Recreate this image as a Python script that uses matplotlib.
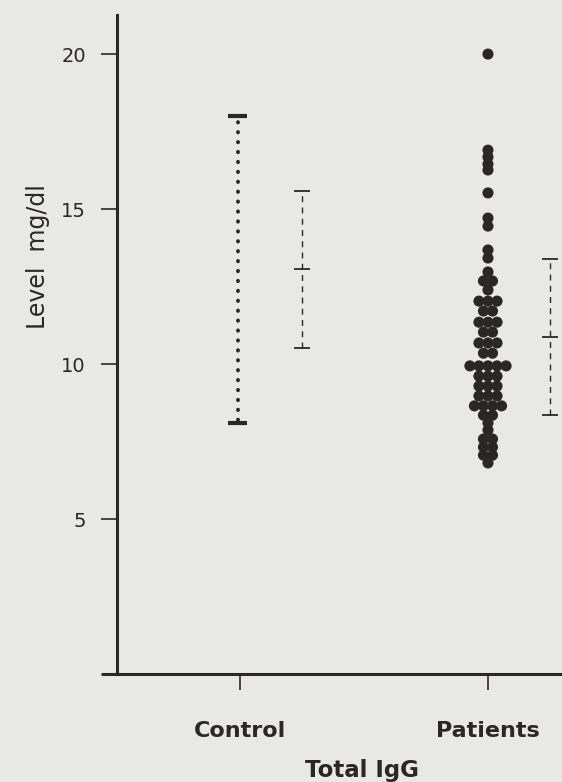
import numpy as np
import matplotlib
matplotlib.use('Agg')
import matplotlib.pyplot as plt

# Total IgG levels (mg/dl)
groups = ['Control', 'Patients']

# Control group: range and mean +/- SD
controlRange = [8.1, 18.0]
controlMean = 13.05
controlSD = 2.53

# Patients: individual values (value, how many dots side by side)
patientLevels = [20.0, 16.9, 16.68, 16.45, 16.26, 15.52, 14.71, 14.45, 13.68, 13.42,
                 12.97, 12.68, 12.39, 12.03, 11.71, 11.35, 11.03, 10.68, 10.35, 9.94,
                 9.61, 9.29, 8.97, 8.65, 8.35, 8.10, 7.87, 7.58, 7.32, 7.06, 6.81]
patientCounts = [1, 1, 1, 1, 1, 1, 1, 1, 1, 1,
                 1, 2, 1, 3, 2, 3, 2, 3, 2, 5,
                 3, 3, 3, 4, 2, 1, 1, 2, 2, 2, 1]
patientMean = 10.87
patientSD = 2.52

yTicks = [5, 10, 15, 20]

ink = '#2a2826'
paper = '#e8e8e6'

fig = plt.figure(figsize=(5.62, 7.82), dpi=100, facecolor=paper)
ax = fig.add_axes([0.2082, 0.1381, 0.7918, 0.8427])
ax.set_facecolor(paper)

ctrlX = 1.0
patX = 3.0
sdOffset = 0.5
dotStep = 0.073

# Control range: dotted line with heavy caps
ax.vlines(ctrlX - 0.02, controlRange[0] + 0.1, controlRange[1] - 0.1, color=ink, lw=2.8,
          linestyles=[(0, (0.1, 2.45))], capstyle='round')
ax.hlines(controlRange, ctrlX - 0.02 - 0.075, ctrlX - 0.02 + 0.075, color=ink, lw=3.0)

# mean +/- SD bars (dashed)
for x, m, s in [(ctrlX + sdOffset, controlMean, controlSD), (patX + sdOffset, patientMean, patientSD)]:
    ax.vlines(x, m - s, m + s, color=ink, lw=1.0, linestyles=[(0, (4.3, 3.8))])
    ax.hlines([m - s, m, m + s], x - 0.065, x + 0.065, color=ink, lw=1.3)

# Patient dots
xs = []
ys = []
for level, n in zip(patientLevels, patientCounts):
    for i in range(n):
        xs.append(patX + (i - (n - 1) / 2) * dotStep)
        ys.append(level)
ax.scatter(xs, ys, s=64, color=ink, edgecolors='none', zorder=3)

ax.set_xlim(0.008, 3.597)
ax.set_ylim(0, 21.26)

for side in ['top', 'right']:
    ax.spines[side].set_visible(False)
for side in ['left', 'bottom']:
    ax.spines[side].set_linewidth(2.2)
    ax.spines[side].set_color(ink)

ax.set_yticks(yTicks)
ax.set_yticklabels([str(t) for t in yTicks])
ax.set_yticks([0], minor=True)
ax.tick_params(axis='y', which='major', length=11.5, width=1.2, color=ink,
               labelsize=14, labelcolor=ink, pad=11)
ax.tick_params(axis='y', which='minor', length=11.5, width=2.2, color=ink)

ax.set_xticks([ctrlX, patX])
ax.set_xticklabels(groups, fontweight='bold')
ax.tick_params(axis='x', length=11.5, width=1.2, color=ink, labelsize=16,
               labelcolor=ink, pad=22)

fig.text(38 / 562, 1 - 257 / 782, 'Level  mg/dl', rotation=90, ha='center', va='center',
         fontsize=17, color=ink)
fig.text(362 / 562, 1 - 771 / 782, 'Total IgG', ha='center', va='center',
         fontsize=16.5, fontweight='bold', color=ink)

fig.savefig('out.png', dpi=100, facecolor=paper)
